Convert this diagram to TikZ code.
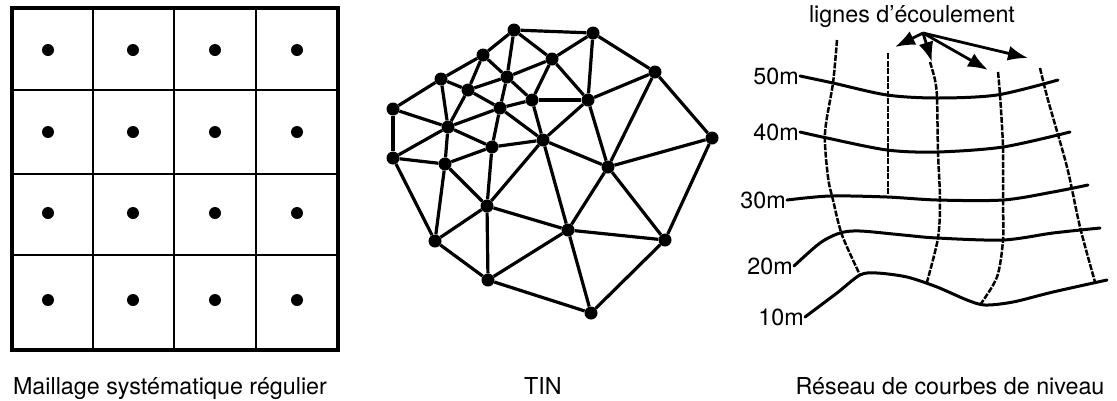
\documentclass[tikz,border=0pt]{standalone}
\usepackage{fontspec}
\setmainfont{TeX Gyre Heros}
\usetikzlibrary{arrows.meta}

\begin{document}
\begin{tikzpicture}[x=1pt, y=-1pt]
        \tikzset{vertex/.style={
            circle,
            fill=black,
            inner sep=0pt,
            minimum size=#1
        }, vertex/.default=13pt}
        \tikzset{edge/.style={
            line width=3.2pt
        }}
        \tikzset{contour/.style={
            line width=3pt,
            line cap=round
        }}
        \tikzset{flow/.style={
            line width=2.5pt,
            dash pattern=on 6pt off 1.5pt
        }}
        \tikzset{flowarrow/.style={
            line width=2.8pt,
            -{Latex[length=20pt,width=15pt]}
        }}
        \tikzset{label/.style={
            font=\fontsize{23.3}{28}\selectfont,
            inner sep=1pt
        }}
        \useasboundingbox (0,0) rectangle (1117,400);
        % regular grid
        \begin{scope}
            \foreach \x in {93,174,256}
                \draw[line width=2.2pt] (\x,8) -- (\x,350);
            \foreach \y in {90,174,255}
                \draw[line width=2.2pt] (12,\y) -- (338,\y);
            \draw[line width=3.4pt] (12,8) rectangle (338,350);
            \foreach \x [count=\i] in {48,133,215,297}
                \foreach \y [count=\j] in {50,132,213,300}
                    \node[vertex=12pt] (g\i\j) at (\x,\y) {};
            \node[label, anchor=base] (capgrid) at (170,394) {Maillage systématique régulier};
        \end{scope}
        % TIN
        \begin{scope}
            \foreach \n/\x/\y in {a/514/30, b/593/33, c/483/55, d/552/59, e/655/72,
                f/441/79, g/507/77, h/468/90, i/532/100, j/588/100, k/393/109,
                l/500/108, m/448/127, n/543/140, o/712/138, p/492/147, q/393/158,
                r/445/164, s/608/167, t/487/206, u/568/230, v/665/240, w/435/241,
                x/488/280, y/591/313}
                \node[vertex] (\n) at (\x,\y) {};
            \foreach \u/\v in {a/b, a/c, a/g, a/d, b/d, b/e, b/j, c/f, c/h, c/g,
                d/g, d/i, d/j, e/j, e/o, e/s, f/k, f/h, f/m, g/h, g/l, g/i, h/m,
                h/l, i/j, i/l, i/n, j/n, j/s, k/m, k/q, l/m, l/p, l/n, m/q, m/p,
                m/r, n/p, n/s, n/t, n/u, o/s, o/v, p/r, p/t, q/r, q/w, r/t, r/w,
                s/u, s/v, t/w, t/x, t/u, u/x, u/v, u/y, v/y, w/x, x/y}
                \draw[edge] (\u) -- (\v);
            \node[label, anchor=base] (captin) at (543,394) {TIN};
        \end{scope}
        % contour lines
        \begin{scope}
            \node[label, anchor=east] (lab50) at (800,76) {50m};
            \node[label, anchor=east] (lab40) at (800,132) {40m};
            \node[label, anchor=east] (lab30) at (787,200) {30m};
            \node[label, anchor=east] (lab20) at (794,266) {20m};
            \node[label, anchor=east] (lab10) at (805,317) {10m};

            \draw[contour] plot[smooth] coordinates {(lab50.east) (833,83) (887,95) (937,98) (997,95) (1058,80)};
            \draw[contour] plot[smooth] coordinates {(lab40.east) (827,138) (887,150) (937,152) (1003,147) (1070,132)};
            \draw[contour] plot[smooth] coordinates {(lab30.east) (830,196) (887,197) (937,200) (1003,200) (1053,192) (1088,185)};
            \draw[contour] plot[smooth] coordinates {(lab20.east) (820,243) (840,233) (860,231) (903,235) (937,238) (1003,240) (1053,233) (1100,228)};
            \draw[contour] plot[smooth] coordinates {(lab10.east) (837,293) (860,275) (877,273) (907,277) (937,287) (967,300) (985,305) (1013,302) (1053,292) (1107,280)};

            \draw[flow] plot[smooth] coordinates {(837,40) (833,83) (825,133) (828,177) (833,200) (842,235) (860,275)};
            \draw[flow] (888,53) -- (888,197);
            \draw[flow] plot[smooth] coordinates {(930,62) (935,80) (937,98) (938,152) (940,200) (938,238) (927,282)};
            \draw[flow] plot[smooth] coordinates {(998,72) (1000,95) (1003,147) (1003,200) (1003,240) (997,277) (980,305)};
            \draw[flow] plot[smooth] coordinates {(1040,68) (1048,100) (1067,167) (1080,227) (1095,282)};

            \node[label, anchor=base] (flowlab) at (912,22) {lignes d'écoulement};
            \coordinate (src) at (923,33);
            \coordinate (tip1) at (895,47);
            \coordinate (tip2) at (932,62);
            \coordinate (tip3) at (988,70);
            \coordinate (tip4) at (1028,58);
            \foreach \k in {1,...,4}
                \draw[flowarrow] (src) -- (tip\k);
            \node[label, anchor=base] (capcourbes) at (950,394) {Réseau de courbes de niveau};
        \end{scope}
\end{tikzpicture}
\end{document}
